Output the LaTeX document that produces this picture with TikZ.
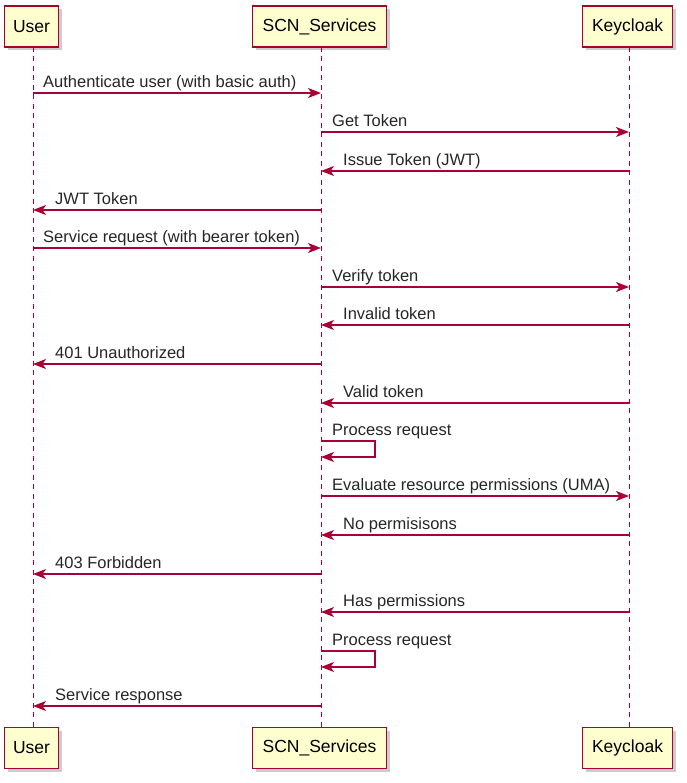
\documentclass[tikz,border=0pt]{standalone}
\usepackage{fontspec}
\setmainfont{Liberation Sans}
\usetikzlibrary{arrows.meta,shadows}
\definecolor{pred}{HTML}{A80036}
\definecolor{pfill}{HTML}{FEFECE}
\tikzset{
  part/.style={draw=pred, line width=1.5pt, fill=pfill, minimum height=41pt, inner sep=0pt,
    font=\fontsize{17.5}{20}\selectfont, drop shadow={opacity=0.4, shadow xshift=3pt, shadow yshift=-3pt}},
  life/.style={draw=pred, line width=1pt, dash pattern=on 5pt off 4.5pt},
  msg/.style={draw=pred, line width=1.3pt, -{Stealth[length=13pt,width=10pt,inset=3.5pt]}},
  lbl/.style={font=\fontsize{16.5}{19}\selectfont, anchor=base west, inner sep=0pt, text=black!85}
}
\begin{document}
\begin{tikzpicture}[x=1pt,y=-1pt]
\useasboundingbox (0,0) rectangle (686,783);
% participants
\node[part, minimum width=54pt] (ut) at (31.5,26.5) {User};
\node[part, minimum width=134pt] (st) at (319.5,26.5) {SCN\_Services};
\node[part, minimum width=90pt] (kt) at (627.5,26.5) {Keycloak};
\node[part, minimum width=54pt] (ub) at (31.5,748) {User};
\node[part, minimum width=134pt] (sb) at (319.5,748) {SCN\_Services};
\node[part, minimum width=90pt] (kb) at (627.5,748) {Keycloak};
% lifelines
\coordinate (uL1) at (33,47); \coordinate (uL2) at (33,727.5);
\coordinate (sL1) at (321,47); \coordinate (sL2) at (321,727.5);
\coordinate (kL1) at (629,47); \coordinate (kL2) at (629,727.5);
\draw[life] (uL1) -- (uL2);
\draw[life] (sL1) -- (sL2);
\draw[life] (kL1) -- (kL2);
% message points
\foreach \n/\y in {1/93,2/132,3/171,4/210,5/248,6/287,7/325,8/364,9/403,10/441,11/496,12/535,13/574,14/612,15/651,16/706}{
  \coordinate (u\n) at (33,\y);
  \coordinate (s\n) at (321,\y);
  \coordinate (k\n) at (629,\y);
}
% messages
\draw[msg] (u1) -- (s1);
\node[lbl] (m1) at (43,87.5) {Authenticate user (with basic auth)};
\draw[msg] (s2) -- (k2);
\node[lbl] (m2) at (332,126.5) {Get Token};
\draw[msg] (k3) -- (s3);
\node[lbl] (m3) at (343,165.5) {Issue Token (JWT)};
\draw[msg] (s4) -- (u4);
\node[lbl] (m4) at (55,204.5) {JWT Token};
\draw[msg] (u5) -- (s5);
\node[lbl] (m5) at (43,242.5) {Service request (with bearer token)};
\draw[msg] (s6) -- (k6);
\node[lbl] (m6) at (332,281.5) {Verify token};
\draw[msg] (k7) -- (s7);
\node[lbl] (m7) at (343,319.5) {Invalid token};
\draw[msg] (s8) -- (u8);
\node[lbl] (m8) at (55,358.5) {401 Unauthorized};
\draw[msg] (k9) -- (s9);
\node[lbl] (m9) at (343,397.5) {Valid token};
% self message 1
\coordinate (p10a) at (375,441); \coordinate (p10b) at (375,457); \coordinate (s10b) at (321,457);
\draw[msg] (s10) -- (p10a) -- (p10b) -- (s10b);
\node[lbl] (m10) at (332,435.5) {Process request};
\draw[msg] (s11) -- (k11);
\node[lbl] (m11) at (332,490.5) {Evaluate resource permissions (UMA)};
\draw[msg] (k12) -- (s12);
\node[lbl] (m12) at (343,529.5) {No permisisons};
\draw[msg] (s13) -- (u13);
\node[lbl] (m13) at (55,568.5) {403 Forbidden};
\draw[msg] (k14) -- (s14);
\node[lbl] (m14) at (343,606.5) {Has permissions};
% self message 2
\coordinate (p15a) at (375,651); \coordinate (p15b) at (375,667); \coordinate (s15b) at (321,667);
\draw[msg] (s15) -- (p15a) -- (p15b) -- (s15b);
\node[lbl] (m15) at (332,645.5) {Process request};
\draw[msg] (s16) -- (u16);
\node[lbl] (m16) at (55,700.5) {Service response};
\end{tikzpicture}
\end{document}
